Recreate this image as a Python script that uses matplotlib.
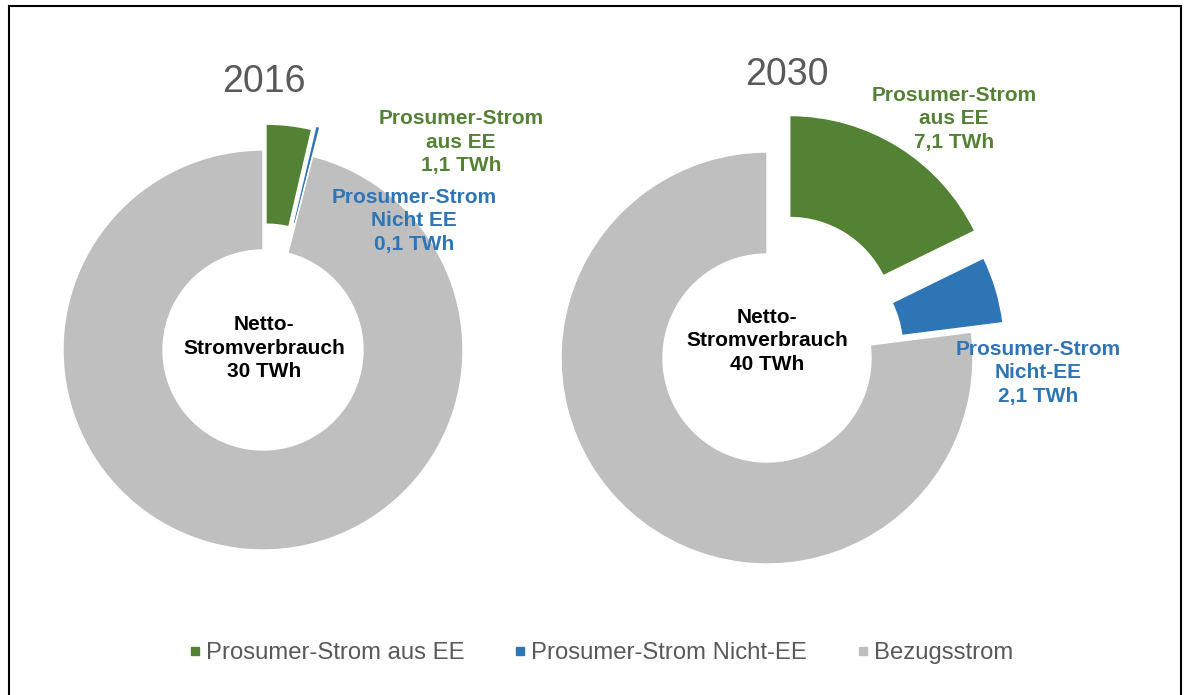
import matplotlib.pyplot as plt
from matplotlib.lines import Line2D
from matplotlib.patches import Rectangle

plt.rcParams["font.family"] = ["Liberation Sans", "DejaVu Sans"]

# data
categories = ["Prosumer-Strom aus EE", "Prosumer-Strom Nicht-EE", "Bezugsstrom"]
colors = ["#548235", "#2E75B6", "#BFBFBF"]
years = ["2016", "2030"]
totals = [30, 40]
prosumer_ee = [1.1, 7.1]
prosumer_nicht_ee = [0.1, 2.1]
bezug = [t - a - b for t, a, b in zip(totals, prosumer_ee, prosumer_nicht_ee)]
ee_labels = ["Prosumer-Strom\naus EE\n1,1 TWh", "Prosumer-Strom\naus EE\n7,1 TWh"]
nicht_ee_labels = ["Prosumer-Strom\nNicht EE\n0,1 TWh", "Prosumer-Strom\nNicht-EE\n2,1 TWh"]

W, H = 1186, 695
fig = plt.figure(figsize=(W / 100, H / 100), dpi=100)
ax = fig.add_axes([0, 0, 1, 1])


def py(y):
    # pixel row (from top) -> data y
    return H - y


# layout per donut: center, radius, ring width, explode, label positions
layout = [
    dict(center=(263, 350), r=200, w=100, explode=[26, 30, 0],
         year_xy=(264, 82), ee_xy=(461, 142), nee_xy=(414, 221), mid_xy=(264, 348)),
    dict(center=(767, 358), r=206, w=102, explode=[43, 33, 0],
         year_xy=(787, 75), ee_xy=(954, 119), nee_xy=(1038, 373), mid_xy=(767, 341)),
]

for i, lay in enumerate(layout):
    cx, cy = lay["center"]
    ax.pie(
        [prosumer_ee[i], prosumer_nicht_ee[i], bezug[i]],
        colors=colors,
        startangle=90,
        counterclock=False,
        radius=lay["r"],
        center=(cx, py(cy)),
        explode=lay["explode"],
        wedgeprops=dict(width=lay["w"], edgecolor="white", linewidth=1),
    )
    x, y = lay["year_xy"]
    ax.text(x, py(y), years[i], ha="center", va="center", fontsize=27, color="#595959")
    x, y = lay["ee_xy"]
    ax.text(x, py(y), ee_labels[i], ha="center", va="center", fontsize=15,
            fontweight="bold", color=colors[0], linespacing=1.27)
    x, y = lay["nee_xy"]
    ax.text(x, py(y), nicht_ee_labels[i], ha="center", va="center", fontsize=15,
            fontweight="bold", color=colors[1], linespacing=1.27)
    x, y = lay["mid_xy"]
    ax.text(x, py(y), f"Netto-\nStromverbrauch\n{totals[i]} TWh", ha="center", va="center",
            fontsize=15, fontweight="bold", color="black", linespacing=1.27)

ax.set_xlim(0, W)
ax.set_ylim(0, H)
ax.set_aspect("equal")
ax.axis("off")

handles = [Line2D([], [], marker="s", linestyle="none", markersize=6,
                  markerfacecolor=c, markeredgecolor=c) for c in colors]
ax.legend(handles, categories, ncol=3, loc="center", bbox_to_anchor=(601, py(653)),
          bbox_transform=ax.transData, frameon=False, fontsize=17.2, labelcolor="#595959",
          handlelength=0.5, handletextpad=0.2, columnspacing=2.1)

# outer frame
fig.patches.append(Rectangle((9 / W, -0.01), (1181 - 9) / W, 1 - 6 / H + 0.01,
                             transform=fig.transFigure, fill=False,
                             edgecolor="black", linewidth=1.5))

fig.savefig("out.png", dpi=100)
